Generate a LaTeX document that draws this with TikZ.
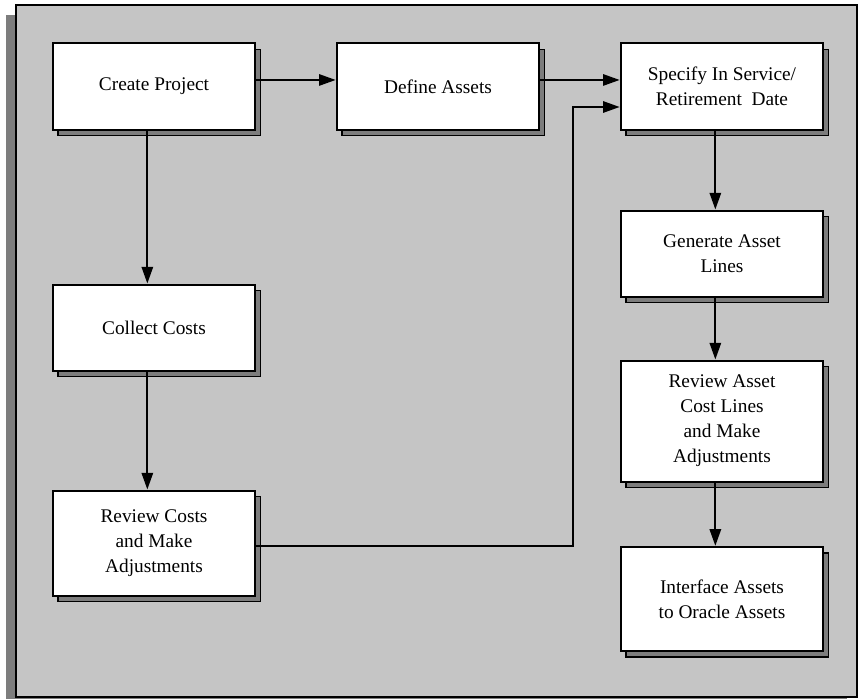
\documentclass[tikz,border=0pt]{standalone}
\usepackage{fontspec}
\setmainfont{Liberation Serif}
\usetikzlibrary{arrows.meta,positioning,shadows}
\definecolor{panelgray}{RGB}{197,197,197}
\definecolor{shadegray}{RGB}{125,125,125}
\tikzset{
  box/.style={rectangle, draw, fill=white, line width=1.5pt, align=center,
    minimum width=152pt, minimum height=64.5pt, inner sep=2pt,
    font=\fontsize{14.5}{18.7}\selectfont,
    general shadow={fill=shadegray, draw=black, line width=1pt,
      shadow xshift=4pt, shadow yshift=-4.5pt}},
  arr/.style={line width=1.5pt, -{Triangle[length=12.5pt,width=8.5pt]}}
}
\begin{document}
\begin{tikzpicture}[x=0.75pt, y=-0.75pt]
  \useasboundingbox (0,0) rectangle (860,699);
  \fill[white] (0,0) rectangle (860,699);
  % panel and its shadow
  \fill[shadegray] (6,15) rectangle (847,699);
  \draw[fill=panelgray, line width=1.5pt] (16,5) rectangle (857,697);

  \node (cp) at (154,86.5) [box] {Create Project};
  \node (da) [right=59.5pt of cp, box] {Define Assets};
  \node (sp) [right=59.5pt of da, box] {Specify In Service/\\Retirement\ \ Date};
  \node (gl) [below=59.25pt of sp, box] {Generate Asset\\Lines};
  \node (ra) [below=46.5pt of gl, box, minimum height=90.75pt] {Review Asset\\Cost Lines\\and Make\\Adjustments};
  \node (ia) [below=47.5pt of ra, box, minimum height=78pt] {Interface Assets\\to Oracle Assets};
  \node (cc) [below=114.75pt of cp, box] {Collect Costs};
  \node (rc) [below=88.5pt of cc, box, minimum height=78.75pt] {Review Costs\\and Make\\Adjustments};
  \coordinate (bend) at (573,107);

  \draw[arr] ([yshift=4.9pt]cp.east) -- ([yshift=4.9pt]da.west);
  \draw[arr] ([yshift=4.9pt]da.east) -- ([yshift=4.9pt]sp.west);
  \draw[arr] ([yshift=-2pt]rc.east) -| (bend) -- (sp.west |- bend);
  \draw[arr] ([xshift=-5pt]cp.south) -- ([xshift=-5pt]cc.north);
  \draw[arr] ([xshift=-5pt]cc.south) -- ([xshift=-5pt]rc.north);
  \draw[arr] ([xshift=-5pt]sp.south) -- ([xshift=-5pt]gl.north);
  \draw[arr] ([xshift=-5pt]gl.south) -- ([xshift=-5pt]ra.north);
  \draw[arr] ([xshift=-5pt]ra.south) -- ([xshift=-5pt]ia.north);
\end{tikzpicture}
\end{document}
